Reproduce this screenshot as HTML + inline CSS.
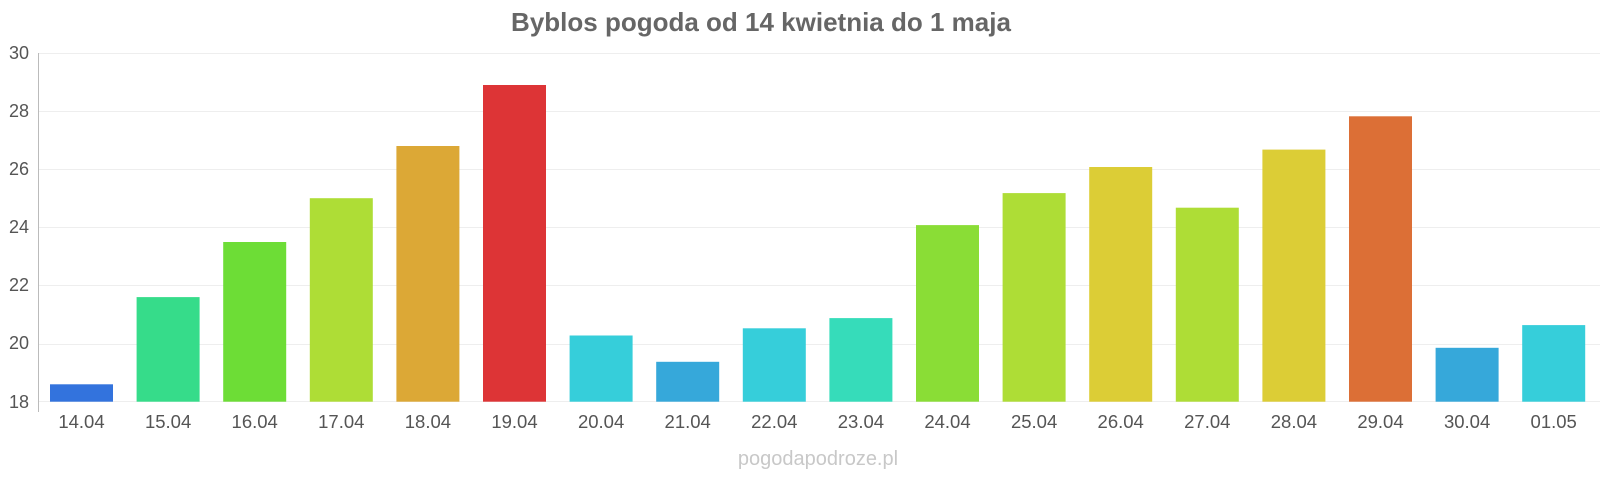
<!DOCTYPE html>
<html><head><meta charset="utf-8"><style>
html,body{margin:0;padding:0;background:#fff;}
svg{display:block;font-family:"Liberation Sans",Arial,sans-serif;}
</style></head><body>
<svg width="1600" height="480" viewBox="0 0 1600 480" xmlns="http://www.w3.org/2000/svg">
<text x="761" y="31" text-anchor="middle" font-size="26" font-weight="bold" fill="#666">Byblos pogoda od 14 kwietnia do 1 maja</text>
<g stroke="#eee" stroke-width="1">
<line x1="38" x2="1600" y1="53.5" y2="53.5"/>
<line x1="38" x2="1600" y1="111.5" y2="111.5"/>
<line x1="38" x2="1600" y1="169.5" y2="169.5"/>
<line x1="38" x2="1600" y1="227.5" y2="227.5"/>
<line x1="38" x2="1600" y1="285.5" y2="285.5"/>
<line x1="38" x2="1600" y1="344.5" y2="344.5"/>
<line x1="38" x2="1600" y1="401.5" y2="401.5"/>
</g>
<line x1="38.5" x2="38.5" y1="53" y2="412" stroke="#bbb"/>
<g font-size="18" fill="#555" text-anchor="end">
<text x="29" y="59">30</text><text x="29" y="117">28</text><text x="29" y="175">26</text>
<text x="29" y="233">24</text><text x="29" y="291">22</text><text x="29" y="349">20</text><text x="29" y="408">18</text>
</g>
<g>
<rect x="50" y="384.3" width="63" height="17.4" fill="#3373dd"/>
<rect x="136.6" y="297.1" width="63" height="104.6" fill="#36dc8a"/>
<rect x="223.2" y="242" width="63" height="159.7" fill="#6ddd36"/>
<rect x="309.8" y="198.2" width="63" height="203.5" fill="#aedd36"/>
<rect x="396.4" y="146" width="63" height="255.7" fill="#dca836"/>
<rect x="483" y="85" width="63" height="316.7" fill="#dd3436"/>
<rect x="569.6" y="335.5" width="63" height="66.2" fill="#36ceda"/>
<rect x="656.2" y="361.8" width="63" height="39.9" fill="#36a8da"/>
<rect x="742.8" y="328.3" width="63" height="73.4" fill="#36ceda"/>
<rect x="829.4" y="318.1" width="63" height="83.6" fill="#36dcba"/>
<rect x="916" y="225.1" width="63" height="176.6" fill="#8add36"/>
<rect x="1002.6" y="193.1" width="63" height="208.6" fill="#aedd36"/>
<rect x="1089.2" y="167" width="63" height="234.7" fill="#dccd36"/>
<rect x="1175.8" y="207.7" width="63" height="194" fill="#aedd36"/>
<rect x="1262.4" y="149.6" width="63" height="252.1" fill="#dccd36"/>
<rect x="1349" y="116.3" width="63" height="285.4" fill="#dc6f36"/>
<rect x="1435.6" y="347.8" width="63" height="53.9" fill="#36a8da"/>
<rect x="1522.2" y="325.1" width="63" height="76.6" fill="#36ceda"/>
</g>
<g font-size="18.5" fill="#555" text-anchor="middle">
<text x="81.5" y="428">14.04</text><text x="168.1" y="428">15.04</text><text x="254.7" y="428">16.04</text>
<text x="341.3" y="428">17.04</text><text x="427.9" y="428">18.04</text><text x="514.5" y="428">19.04</text>
<text x="601.1" y="428">20.04</text><text x="687.7" y="428">21.04</text><text x="774.3" y="428">22.04</text>
<text x="860.9" y="428">23.04</text><text x="947.5" y="428">24.04</text><text x="1034.1" y="428">25.04</text>
<text x="1120.7" y="428">26.04</text><text x="1207.3" y="428">27.04</text><text x="1293.9" y="428">28.04</text>
<text x="1380.5" y="428">29.04</text><text x="1467.1" y="428">30.04</text><text x="1553.7" y="428">01.05</text>
</g>
<text x="818" y="465" text-anchor="middle" font-size="20" fill="#c8c8c8">pogodapodroze.pl</text>
</svg>
</body></html>
